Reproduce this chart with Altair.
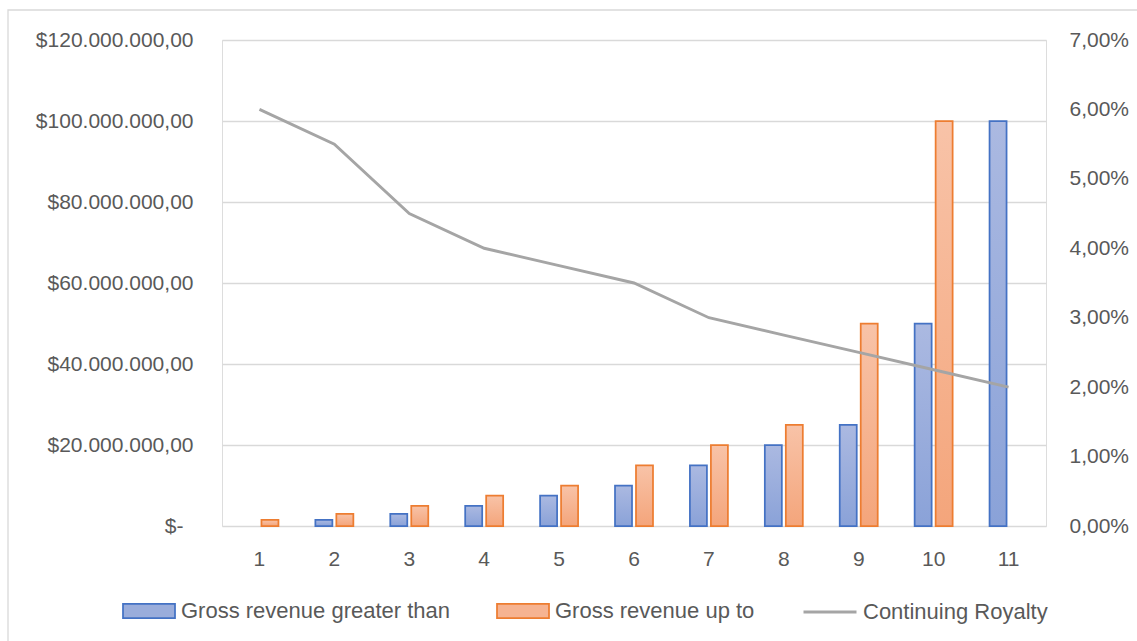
import altair as alt
import pandas as pd

categories = list(range(1, 12))
greater_than = [0, 1_500_000, 3_000_000, 5_000_000, 7_500_000, 10_000_000,
                15_000_000, 20_000_000, 25_000_000, 50_000_000, 100_000_000]
up_to = [1_500_000, 3_000_000, 5_000_000, 7_500_000, 10_000_000, 15_000_000,
         20_000_000, 25_000_000, 50_000_000, 100_000_000, None]
royalty = [0.06, 0.055, 0.045, 0.04, 0.0375, 0.035, 0.03, 0.0275, 0.025, 0.0225, 0.02]

series_names = ["Gross revenue greater than", "Gross revenue up to"]
royalty_name = "Continuing Royalty"
left_ticks = [0, 20_000_000, 40_000_000, 60_000_000, 80_000_000, 100_000_000, 120_000_000]
right_ticks = [0, 0.01, 0.02, 0.03, 0.04, 0.05, 0.06, 0.07]

rows = []
for c, g, u in zip(categories, greater_than, up_to):
    rows.append({"cat": c, "series": series_names[0], "value": g})
    rows.append({"cat": c, "series": series_names[1], "value": u})
bars_df = pd.DataFrame(rows)
line_df = pd.DataFrame({"cat": categories, "royalty": royalty, "name": royalty_name})

FONT = "Liberation Sans"
TXT = "#595959"

blue_grad = alt.LinearGradient(
    gradient="linear",
    stops=[alt.GradientStop(color="#abb9e1", offset=0), alt.GradientStop(color="#8aa2d8", offset=1)],
    x1=0, x2=0, y1=0, y2=1)
orange_grad = alt.LinearGradient(
    gradient="linear",
    stops=[alt.GradientStop(color="#f8c3a8", offset=0), alt.GradientStop(color="#f4a57b", offset=1)],
    x1=0, x2=0, y1=0, y2=1)

x_axis = alt.Axis(title=None, labelAngle=0, domain=False, ticks=False, grid=False,
                  labelPadding=22, labelFontSize=21, labelColor=TXT, labelFont=FONT)
x_scale = alt.Scale(paddingInner=0.493, paddingOuter=0.2465)
x_enc = alt.X("cat:O", scale=x_scale, axis=x_axis)
xoff_enc = alt.XOffset("series:N", scale=alt.Scale(domain=series_names, paddingInner=0.19, paddingOuter=0))
y_enc = alt.Y("value:Q", scale=alt.Scale(domain=[0, 120_000_000], nice=False),
              axis=alt.Axis(title=None, values=left_ticks, domain=False, ticks=False, grid=True,
                            gridColor="#d9d9d9", gridWidth=1.4,
                            labelPadding={"condition": {"test": "datum.value == 0", "value": 39}, "value": 29},
                            labelFontSize=21, labelColor=TXT, labelFont=FONT,
                            labelExpr="datum.value == 0 ? '$-' : '$' + format(datum.value / 1000000, 'd') + '.000.000,00'"))

base = alt.Chart(bars_df).encode(x=x_enc, xOffset=xoff_enc, y=y_enc)

blue = base.transform_filter(
    f"datum.series == '{series_names[0]}' && datum.value > 0"
).mark_bar(fill=blue_grad, stroke="#4472c4", strokeWidth=1.75)
orange = base.transform_filter(
    f"datum.series == '{series_names[1]}' && datum.value > 0"
).mark_bar(fill=orange_grad, stroke="#ed7d31", strokeWidth=1.75)

bar_legend = alt.Legend(orient="none", legendX=-100, legendY=544, direction="horizontal",
                        title=None, symbolType="M-1,-0.27H1V0.27H-1Z", symbolSize=2704,
                        symbolStrokeWidth=1.75, symbolOpacity=1, labelFont=FONT,
                        labelFontSize=22, labelColor=TXT, labelOffset=5, columnPadding=42,
                        labelLimit=500, padding=0)
legend_layer = base.transform_filter("datum.value > 0").mark_bar(opacity=0).encode(
    fill=alt.Fill("series:N", scale=alt.Scale(domain=series_names, range=["#9aaddb", "#f6b391"]),
                  legend=bar_legend),
    stroke=alt.Stroke("series:N", scale=alt.Scale(domain=series_names, range=["#4472c4", "#ed7d31"]),
                      legend=bar_legend),
)

bars = alt.layer(blue, orange, legend_layer)

line = alt.Chart(line_df).mark_line(strokeWidth=2.9).encode(
    x=alt.X("cat:O", scale=x_scale, axis=x_axis),
    y=alt.Y("royalty:Q", scale=alt.Scale(domain=[0, 0.07], nice=False),
            axis=alt.Axis(orient="right", title=None, values=right_ticks, domain=False, ticks=False,
                          grid=False, labelPadding=23, labelFontSize=21, labelColor=TXT,
                          labelFont=FONT,
                          labelExpr="replace(format(datum.value, '.2%'), '.', ',')")),
    color=alt.Color("name:N", scale=alt.Scale(domain=[royalty_name], range=["#a5a5a5"]),
                    legend=alt.Legend(orient="none", legendX=580, legendY=544, title=None,
                                      symbolType="stroke", symbolSize=2809, symbolStrokeWidth=3,
                                      labelFont=FONT, labelFontSize=22, labelColor=TXT,
                                      labelOffset=5, labelLimit=500, padding=0)),
)

border = alt.Chart(pd.DataFrame({"k": [0]})).mark_rect(
    fillOpacity=0, stroke="#d9d9d9", strokeWidth=1.3
).encode(x=alt.value(-214), x2=alt.value(1000), y=alt.value(-30), y2=alt.value(700))

chart = alt.layer(border, bars, line).resolve_scale(y="independent").properties(
    width=824, height=486,
    padding={"left": 222, "top": 40, "right": 91, "bottom": 115},
    autosize=alt.AutoSizeParams(type="none"),
).configure_view(strokeWidth=0).configure(font=FONT)

chart.save("out.html", embed_options={"renderer": "svg", "actions": False})
